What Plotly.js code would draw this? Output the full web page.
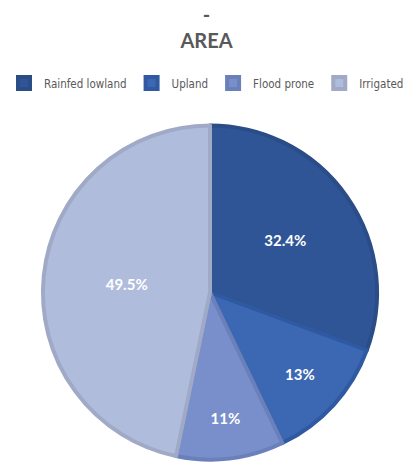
<!DOCTYPE html>
<html>
<head>
<meta charset="utf-8">
<script src="https://cdn.plot.ly/plotly-3.0.1.min.js"></script>
<style>html,body{margin:0;padding:0;background:#fff;}#chart{width:413px;height:465px;}</style>
</head>
<body>
<div id="chart"></div>
<script>
var categories = ["Rainfed lowland", "Upland", "Flood prone", "Irrigated"];
var values = [32.4, 13, 11, 49.5];
var labelsText = ["32.4%", "13%", "11%", "49.5%"];
var fillColors = ["#2F5597", "#3C67B3", "#788FCB", "#AFBCDC"];
var borderColors = ["#2A4C87", "#2F59A0", "#6A80BA", "#A0AAC7"];

var trace = {
  type: "pie",
  labels: categories,
  values: values,
  text: labelsText,
  textinfo: "text",
  textposition: "inside",
  insidetextorientation: "horizontal",
  sort: false,
  direction: "clockwise",
  rotation: 0,
  marker: { colors: fillColors, line: { color: borderColors, width: 4 } },
  textfont: { family: "Lato, 'Open Sans', sans-serif", size: 15, color: "#FFFFFF", weight: "bold" },
  domain: { x: [0.104, 0.913], y: [0.01, 0.732] },
  hoverinfo: "label+text"
};

var layout = {
  width: 413,
  height: 465,
  margin: { l: 0, r: 0, t: 0, b: 0 },
  paper_bgcolor: "#FFFFFF",
  title: {
    text: "<b>-</b><br><b>AREA</b>",
    font: { family: "Lato, 'Open Sans', sans-serif", size: 20, color: "#595959" },
    x: 0.5, xanchor: "center", y: 0.953, yanchor: "top"
  },
  showlegend: true,
  legend: {
    orientation: "h",
    x: 0.5, xanchor: "center",
    y: 0.8215, yanchor: "middle",
    font: { family: "'DejaVu Sans Condensed', Lato, sans-serif", size: 11.5, color: "#595959" },
    itemwidth: 30,
    traceorder: "normal"
  }
};

Plotly.newPlot("chart", [trace], layout, { displayModeBar: false, staticPlot: true });
</script>
</body>
</html>
